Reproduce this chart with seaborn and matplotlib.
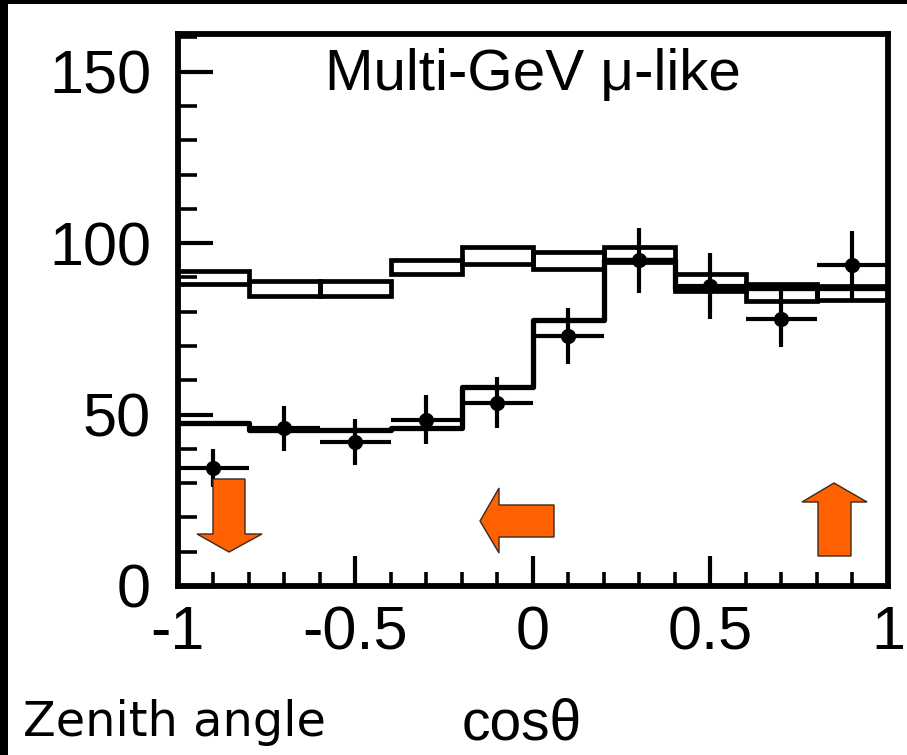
import numpy as np
import matplotlib
matplotlib.use("Agg")
import matplotlib.pyplot as plt
import seaborn as sns
from matplotlib.patches import Polygon, Rectangle
from matplotlib.ticker import MultipleLocator, FixedLocator, FixedFormatter

# ---------------- data ----------------
bin_edges = [-1.0, -0.8, -0.6, -0.4, -0.2, 0.0, 0.2, 0.4, 0.6, 0.8, 1.0]
bin_centers = [-0.9, -0.7, -0.5, -0.3, -0.1, 0.1, 0.3, 0.5, 0.7, 0.9]
noosc_upper = [92.0, 89.0, 89.0, 95.0, 99.0, 97.5, 99.0, 91.0, 88.0, 87.5]
noosc_lower = [88.0, 84.5, 84.5, 91.0, 94.0, 92.5, 94.5, 86.0, 83.0, 83.5]
osc_best = [47.5, 45.5, 45.5, 46.0, 58.0, 77.5, 95.0, 86.5, 87.0, 87.0]
data_vals = [34.5, 46.0, 42.0, 48.5, 53.5, 73.0, 95.0, 87.5, 78.0, 93.5]
data_errs = [5.5, 6.6, 6.8, 7.1, 7.5, 8.2, 9.5, 9.5, 8.2, 10.0]
y_ticks = [0, 50, 100, 150]
x_ticks = [-1.0, -0.5, 0.0, 0.5, 1.0]
x_tick_labels = ["-1", "-0.5", "0", "0.5", "1"]
title_text = "Multi-GeV \u03bc-like"
left_label = "Zenith angle"
x_label = "cos\u03b8"

# ---------------- style ----------------
sns.set_style("white")
plt.rcParams["font.family"] = ["Liberation Sans", "DejaVu Sans"]
plt.rcParams["axes.unicode_minus"] = False

W, H = 907, 755
fig = plt.figure(figsize=(W / 100, H / 100), dpi=100)
fig.patch.set_facecolor("white")

def px(x, y):
    return (x / W, 1 - y / H)

ax_l, ax_r, ax_t, ax_b = 177.5, 888.0, 34.0, 586.0
ax = fig.add_axes([ax_l / W, 1 - ax_b / H, (ax_r - ax_l) / W, (ax_b - ax_t) / H])
ax.set_facecolor("white")

# no-oscillation band drawn as boxes per bin
heights = np.subtract(noosc_upper, noosc_lower)
ax.bar(bin_centers, heights, width=0.2, bottom=noosc_lower, fill=False,
       edgecolor="black", linewidth=3.4, zorder=2)

# best-fit oscillation histogram
sns.histplot(x=bin_centers, weights=osc_best, bins=bin_edges, element="step",
             fill=False, color="black", linewidth=3.8, ax=ax, zorder=3)

# data points
ax.errorbar(bin_centers, data_vals, yerr=data_errs, xerr=0.1, fmt="none",
            ecolor="black", elinewidth=3.0, capsize=0, zorder=4)
sns.scatterplot(x=bin_centers, y=data_vals, color="black", s=120,
                edgecolor="black", linewidth=0, ax=ax, zorder=5)

ax.set_xlim(-1, 1)
ax.set_ylim(0, 161)
ax.set_xlabel("")
ax.set_ylabel("")

ax.xaxis.set_major_locator(FixedLocator(x_ticks))
ax.xaxis.set_major_formatter(FixedFormatter(x_tick_labels))
ax.xaxis.set_minor_locator(MultipleLocator(0.1))
ax.yaxis.set_major_locator(FixedLocator(y_ticks))
ax.yaxis.set_minor_locator(MultipleLocator(10))

ax.tick_params(axis="both", which="both", direction="in", color="black",
               bottom=True, left=True, top=False, right=False,
               labelsize=44, labelcolor="black")
ax.tick_params(axis="y", which="major", length=25, width=3, pad=19)
ax.tick_params(axis="y", which="minor", length=14, width=2.6)
ax.tick_params(axis="x", which="major", length=21.5, width=3, pad=14)
ax.tick_params(axis="x", which="minor", length=10, width=2.6)

for s in ax.spines.values():
    s.set_visible(True)
    s.set_color("black")
    s.set_linewidth(4.2)

ax.text(0.5, (ax_b - 90) / (ax_b - ax_t), title_text, transform=ax.transAxes,
        ha="center", va="baseline", fontsize=42, color="black")

# texts below
fig.text(*px(23, 736), left_label, ha="left", va="baseline", fontsize=34.5,
         family=["DejaVu Sans"], color="black")
fig.text(*px(462, 739), x_label, ha="left", va="baseline", fontsize=41,
         color="black")

# orange arrows (annotations)
orange = "#FF6000"
arrows = [
    [(213, 479), (245, 479), (245, 534), (262, 534), (229, 552), (197, 534), (213, 534)],
    [(480, 521), (499, 488), (499, 505), (554, 505), (554, 537), (499, 537), (499, 553)],
    [(834, 483), (867, 502), (851, 502), (851, 556), (818, 556), (818, 502), (802, 502)],
]
for pts in arrows:
    poly = Polygon([px(x, y) for x, y in pts], closed=True, transform=fig.transFigure,
                   facecolor=orange, edgecolor="#3a2a20", linewidth=1.0, zorder=10)
    fig.patches.append(poly)

# black frame bands on top and left edges of the picture
fig.patches.append(Rectangle((0, 1 - 4 / H), 1, 4 / H, transform=fig.transFigure,
                             facecolor="black", edgecolor="none", zorder=20))
fig.patches.append(Rectangle((0, 0), 8 / W, 1, transform=fig.transFigure,
                             facecolor="black", edgecolor="none", zorder=20))

fig.savefig("out.png", dpi=100, facecolor="white")
